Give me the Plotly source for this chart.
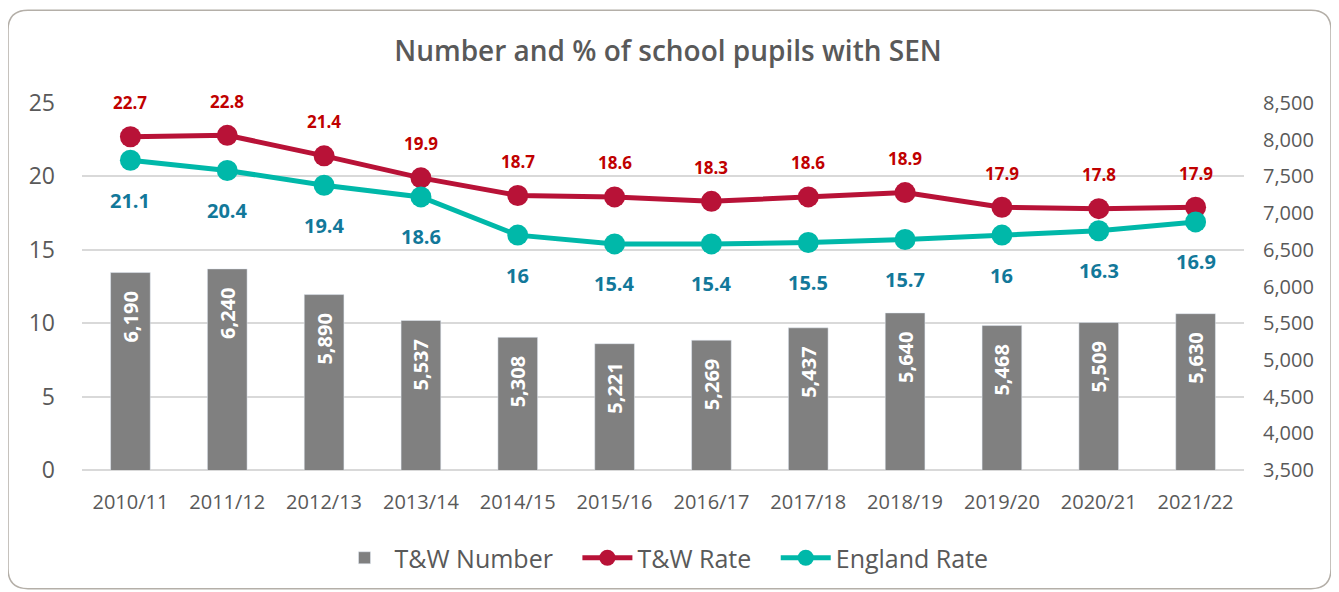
import plotly.graph_objects as go

years = ["2010/11", "2011/12", "2012/13", "2013/14", "2014/15", "2015/16",
         "2016/17", "2017/18", "2018/19", "2019/20", "2020/21", "2021/22"]
tw_number = [6190, 6240, 5890, 5537, 5308, 5221, 5269, 5437, 5640, 5468, 5509, 5630]
tw_rate = [22.7, 22.8, 21.4, 19.9, 18.7, 18.6, 18.3, 18.6, 18.9, 17.9, 17.8, 17.9]
eng_rate = [21.1, 20.4, 19.4, 18.6, 16, 15.4, 15.4, 15.5, 15.7, 16, 16.3, 16.9]

# page body has an 8px margin, so the figure is drawn 8px smaller
OFF = 8
W, H = 1339 - OFF, 592 - OFF
L, R, T, B = 74, 95, 95, 121
FONT = "Open Sans"
GREY = "#595959"
RED = "#B81237"
TEAL = "#00B8A9"
PAD = "\u00a0" * 3   # keeps legend items / bar labels apart like the original


def px2paper(x, y):
    # x, y in screenshot pixels
    pw = W - L - R
    ph = H - T - B
    return (x - OFF - L) / pw, (H - B - (y - OFF)) / ph


fig = go.Figure()

fig.add_trace(go.Bar(
    x=years, y=tw_number, name="T&W Number" + PAD, yaxis="y2",
    marker_color="#808080", width=0.41,
    text=[f"{v:,}" + PAD for v in tw_number], textposition="inside",
    insidetextanchor="end", textangle=-90,
    textfont=dict(color="white", size=20, family=FONT, weight="bold"),
))
fig.add_trace(go.Scatter(
    x=years, y=tw_rate, name="T&W Rate" + PAD, mode="lines+markers",
    line=dict(color=RED, width=5), marker=dict(color=RED, size=21),
))
fig.add_trace(go.Scatter(
    x=years, y=eng_rate, name="England Rate", mode="lines+markers",
    line=dict(color=TEAL, width=5), marker=dict(color=TEAL, size=21),
))

annotations = []
for x, y in zip(years, tw_rate):
    annotations.append(dict(x=x, y=y, xref="x", yref="y", text=f"{y:g}",
                            showarrow=False, yshift=34,
                            font=dict(color="#C00000", size=17, family=FONT, weight="bold")))
for x, y in zip(years, eng_rate):
    annotations.append(dict(x=x, y=y, xref="x", yref="y", text=f"{y:g}",
                            showarrow=False, yshift=-40,
                            font=dict(color="#12789A", size=20, family=FONT, weight="bold")))

# rounded chart border
x0, y0 = px2paper(8, 10)
x1, y1 = px2paper(1331, 590)
xr, _ = px2paper(8 + 20, 10)
_, yr = px2paper(8, 10 + 20)
dx = xr - x0
dy = y0 - yr
path = (f"M {x0},{y1 + dy} L {x0},{y0 - dy} Q {x0},{y0} {x0 + dx},{y0} "
        f"L {x1 - dx},{y0} Q {x1},{y0} {x1},{y0 - dy} "
        f"L {x1},{y1 + dy} Q {x1},{y1} {x1 - dx},{y1} "
        f"L {x0 + dx},{y1} Q {x0},{y1} {x0},{y1 + dy} Z")

fig.update_layout(
    width=W, height=H,
    margin=dict(l=L, r=R, t=T, b=B),
    paper_bgcolor="white", plot_bgcolor="white",
    font=dict(family=FONT, color=GREY),
    title=dict(text="Number and % of school pupils with SEN", x=px2paper(668, 0)[0],
               xref="paper", xanchor="center",
               y=1 - (51 - OFF) / H, yanchor="middle", yref="container",
               font=dict(size=28, color=GREY, family=FONT, weight=600)),
    xaxis=dict(range=[-0.5, len(years) - 0.5], showgrid=False, showline=False, ticks="",
               tickfont=dict(size=20, color=GREY), ticklabelstandoff=18),
    yaxis=dict(range=[0, 25], dtick=5, showgrid=True, gridcolor="#D9D9D9", gridwidth=1.5,
               zeroline=True, zerolinecolor="#D9D9D9", zerolinewidth=1.5,
               tickfont=dict(size=23, color=GREY), ticklabelstandoff=26),
    yaxis2=dict(range=[3500, 8500], dtick=500, overlaying="y", side="right",
                showgrid=False, zeroline=False, tickformat=",",
                tickfont=dict(size=20, color=GREY), ticklabelstandoff=18),
    legend=dict(orientation="h", x=px2paper(664, 0)[0], xanchor="center",
                y=px2paper(0, 558)[1], yanchor="middle",
                font=dict(size=25, color=GREY),
                traceorder="normal", itemwidth=50),
    annotations=annotations,
    shapes=[dict(type="path", path=path, xref="paper", yref="paper",
                 line=dict(color="#B4AFA8", width=1.5), layer="below")],
    showlegend=True,
)

fig.write_html("out.html")
